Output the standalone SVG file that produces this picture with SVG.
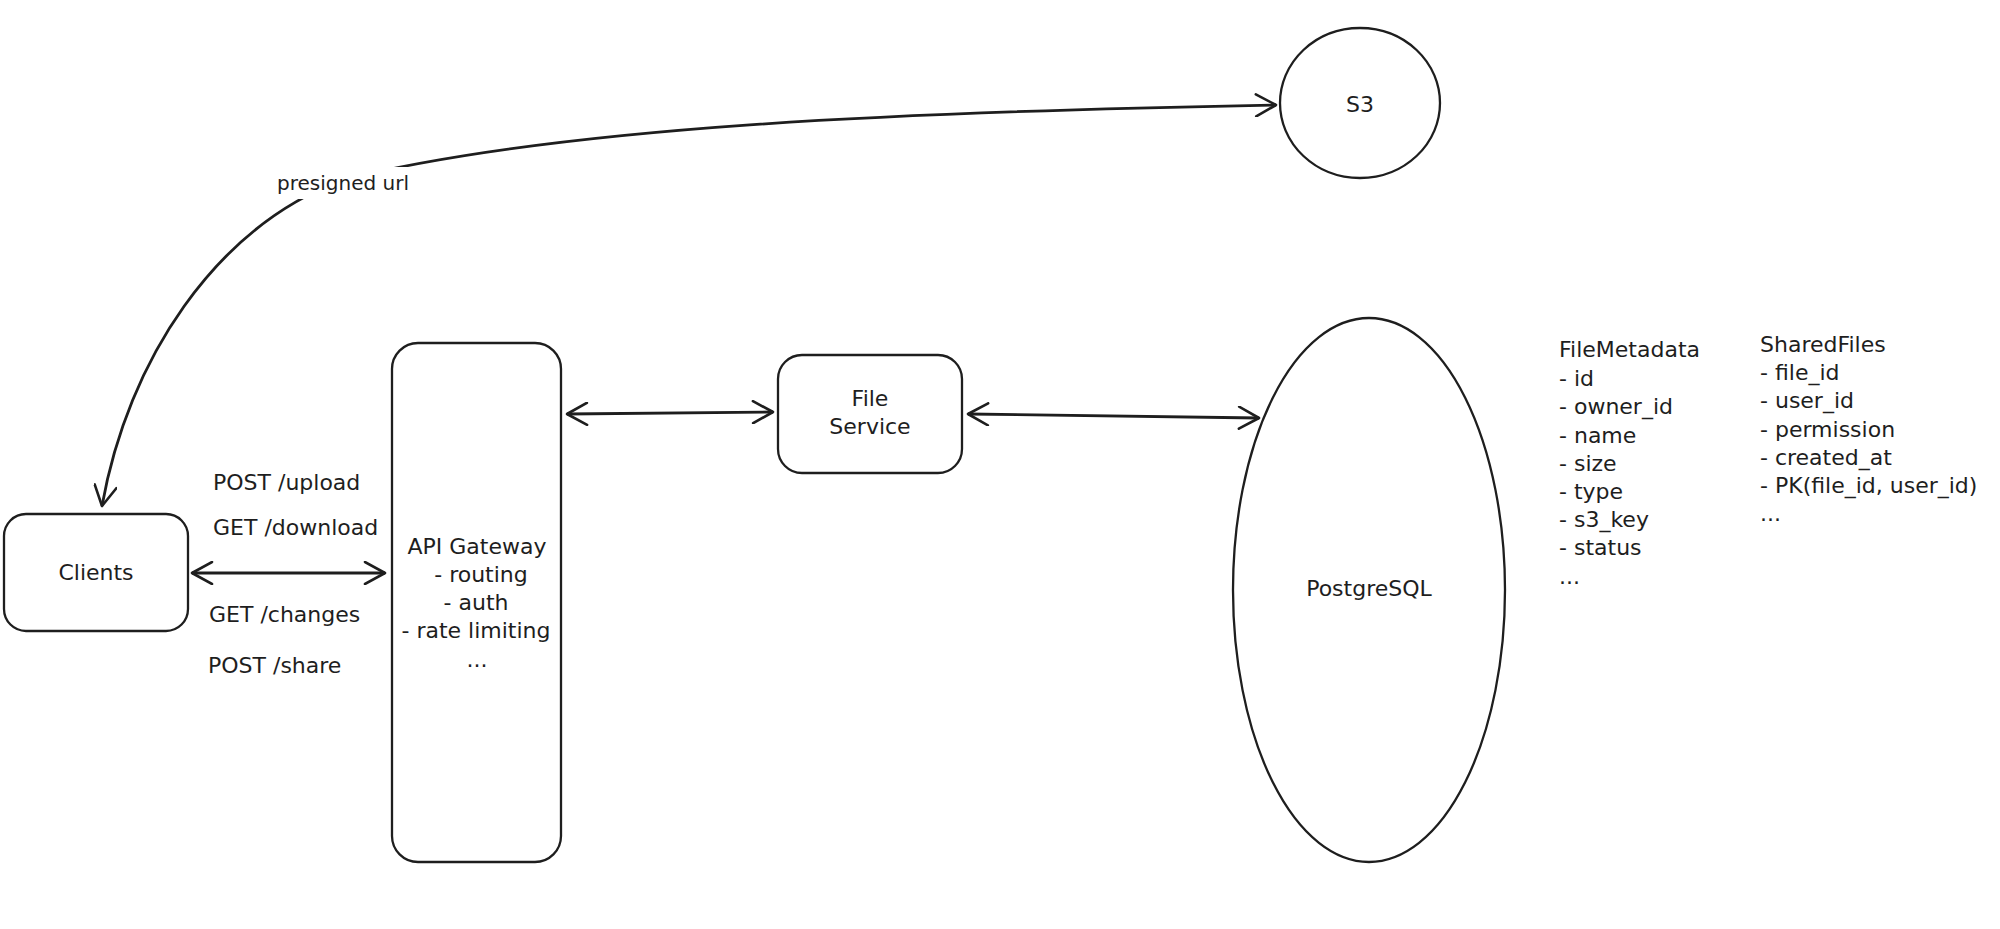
<svg xmlns="http://www.w3.org/2000/svg" width="2000" height="929" viewBox="0 0 2000 929">
<style>
.shape{fill:#ffffff;stroke:#1e1e1e;stroke-width:2.3}
.edge{fill:none;stroke:#1e1e1e;stroke-width:2.8}
.t{font-family:"DejaVu Sans","Liberation Sans",sans-serif;font-size:22px;fill:#1e1e1e}
.c{text-anchor:middle;dominant-baseline:central}
.l{text-anchor:start;dominant-baseline:central}
</style>
<defs>
<marker id="arr" viewBox="0 0 24 24" refX="22" refY="12" markerWidth="24" markerHeight="24" markerUnits="userSpaceOnUse" orient="auto-start-reverse">
<path d="M2 1 L22 12 L2 23" fill="none" stroke="#1e1e1e" stroke-width="2.6" stroke-linecap="round" stroke-linejoin="round"/>
</marker>
</defs>
<rect width="2000" height="929" fill="#ffffff"/>

<g id="connectors">
<path class="edge" d="M1276 105 C 900 112, 560 126, 342 180 C 215 228, 128 360, 102 506" marker-start="url(#arr)" marker-end="url(#arr)"/>
<rect x="270" y="167" width="146" height="32" fill="#ffffff"/>
<text class="t c" x="343" y="183" style="font-size:20px">presigned url</text>
<line class="edge" x1="192" y1="573" x2="385" y2="573" marker-start="url(#arr)" marker-end="url(#arr)"/>
<line class="edge" x1="567" y1="414" x2="773" y2="412" marker-start="url(#arr)" marker-end="url(#arr)"/>
<line class="edge" x1="968" y1="414" x2="1259" y2="418" marker-start="url(#arr)" marker-end="url(#arr)"/>
<text class="t l" x="213" y="482">POST /upload</text>
<text class="t l" x="213" y="527">GET /download</text>
<text class="t l" x="209" y="614">GET /changes</text>
<text class="t l" x="208" y="665">POST /share</text>
</g>

<g id="s3">
<ellipse class="shape" cx="1360" cy="103" rx="80" ry="75"/>
<text class="t c" x="1360" y="104">S3</text>
</g>

<g id="clients">
<rect class="shape" x="4" y="514" width="184" height="117" rx="22"/>
<text class="t c" x="96" y="572">Clients</text>
</g>

<g id="api-gateway">
<rect class="shape" x="392" y="343" width="169" height="519" rx="26"/>
<text class="t c" x="477" y="546">API Gateway</text>
<text class="t c" x="481" y="574">- routing</text>
<text class="t c" x="476" y="602">- auth</text>
<text class="t c" x="476" y="630">- rate limiting</text>
<text class="t c" x="477" y="659">...</text>
</g>

<g id="file-service">
<rect class="shape" x="778" y="355" width="184" height="118" rx="24"/>
<text class="t c" x="870" y="398">File</text>
<text class="t c" x="870" y="426">Service</text>
</g>

<g id="postgresql">
<ellipse class="shape" cx="1369" cy="590" rx="136" ry="272"/>
<text class="t c" x="1369" y="588">PostgreSQL</text>
</g>

<g id="file-metadata">
<text class="t l" x="1559" y="349">FileMetadata</text>
<text class="t l" x="1559" y="378">- id</text>
<text class="t l" x="1559" y="406">- owner_id</text>
<text class="t l" x="1559" y="435">- name</text>
<text class="t l" x="1559" y="463">- size</text>
<text class="t l" x="1559" y="491">- type</text>
<text class="t l" x="1559" y="519">- s3_key</text>
<text class="t l" x="1559" y="547">- status</text>
<text class="t l" x="1559" y="576">...</text>
</g>

<g id="shared-files">
<text class="t l" x="1760" y="344">SharedFiles</text>
<text class="t l" x="1760" y="372">- file_id</text>
<text class="t l" x="1760" y="400">- user_id</text>
<text class="t l" x="1760" y="429">- permission</text>
<text class="t l" x="1760" y="457">- created_at</text>
<text class="t l" x="1760" y="485">- PK(file_id, user_id)</text>
<text class="t l" x="1760" y="513">...</text>
</g>
</svg>
